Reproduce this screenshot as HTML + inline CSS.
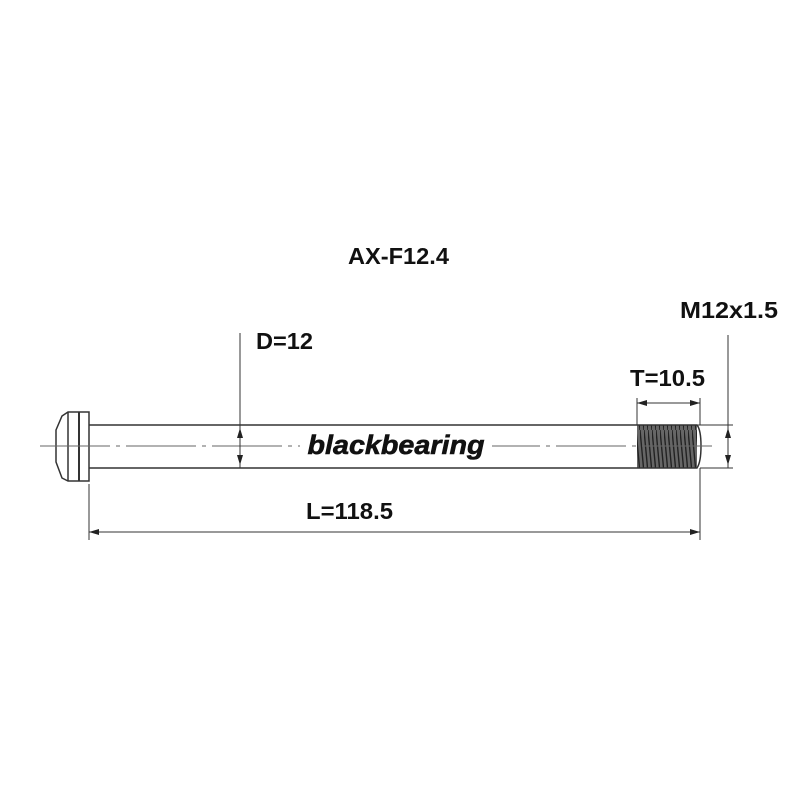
<!DOCTYPE html>
<html><head><style>
html,body{margin:0;padding:0;background:#fff;}
svg{display:block;}
text{font-family:"Liberation Sans",Arial,sans-serif;font-weight:bold;fill:#111;}
</style></head><body>
<svg width="800" height="800" viewBox="0 0 800 800" xmlns="http://www.w3.org/2000/svg">
<defs>
<pattern id="th" width="4" height="43" patternUnits="userSpaceOnUse">
<rect width="4" height="43" fill="#666"/>
<line x1="0" y1="0" x2="4" y2="43" stroke="#222" stroke-width="1.4"/>
</pattern>
<marker id="ar" markerWidth="10" markerHeight="6" refX="10" refY="3" orient="auto-start-reverse" markerUnits="userSpaceOnUse">
<path d="M0,0 L10,3 L0,6 z" fill="#222"/>
</marker>
</defs>
<g stroke="#333" fill="none" stroke-width="1.5">
<path d="M68,412 L89,412 L89,481 L68,481 L62,478 L56,462 L56,430 L62,416 Z" fill="#fff"/>
<line x1="68" y1="412" x2="68" y2="481"/>
<line x1="79" y1="412" x2="79" y2="481" stroke-width="2"/>
<line x1="89" y1="425" x2="637" y2="425"/>
<line x1="89" y1="468" x2="637" y2="468"/>
</g>
<rect x="637" y="425" width="60" height="43" fill="url(#th)"/>
<path d="M637,425 L697,425 Q701,430 701,446 Q701,462 697,468 L637,468" fill="none" stroke="#333" stroke-width="1.5"/>
<line x1="40" y1="446" x2="715" y2="446" stroke="#666" stroke-width="1" stroke-dasharray="70,6,4,6"/>
<g stroke="#333" stroke-width="1">
<line x1="240" y1="333" x2="240" y2="468"/>
<line x1="240" y1="428" x2="240" y2="465" marker-start="url(#ar)" marker-end="url(#ar)"/>
<line x1="89" y1="484" x2="89" y2="540"/>
<line x1="700" y1="468" x2="700" y2="540"/>
<line x1="89" y1="532" x2="700" y2="532" marker-start="url(#ar)" marker-end="url(#ar)"/>
<line x1="637" y1="398" x2="637" y2="425"/>
<line x1="700" y1="398" x2="700" y2="425"/>
<line x1="637" y1="403" x2="700" y2="403" marker-start="url(#ar)" marker-end="url(#ar)"/>
<line x1="697" y1="425" x2="733" y2="425"/>
<line x1="700" y1="468" x2="733" y2="468"/>
<line x1="728" y1="335" x2="728" y2="468"/>
<line x1="728" y1="428" x2="728" y2="465" marker-start="url(#ar)" marker-end="url(#ar)"/>
</g>
<rect x="300" y="430" width="192" height="30" fill="#fff"/>
<text x="396" y="454" font-size="27" font-style="italic" text-anchor="middle" textLength="177" lengthAdjust="spacingAndGlyphs" stroke="#111" stroke-width="0.6">blackbearing</text>
<text x="348" y="264" font-size="23" textLength="101" lengthAdjust="spacingAndGlyphs">AX-F12.4</text>
<text x="256" y="349" font-size="23" textLength="57" lengthAdjust="spacingAndGlyphs">D=12</text>
<text x="630" y="386" font-size="23" textLength="75" lengthAdjust="spacingAndGlyphs">T=10.5</text>
<text x="680" y="318" font-size="23" textLength="98" lengthAdjust="spacingAndGlyphs">M12x1.5</text>
<text x="306" y="519" font-size="23" textLength="87" lengthAdjust="spacingAndGlyphs">L=118.5</text>
</svg>
</body></html>
